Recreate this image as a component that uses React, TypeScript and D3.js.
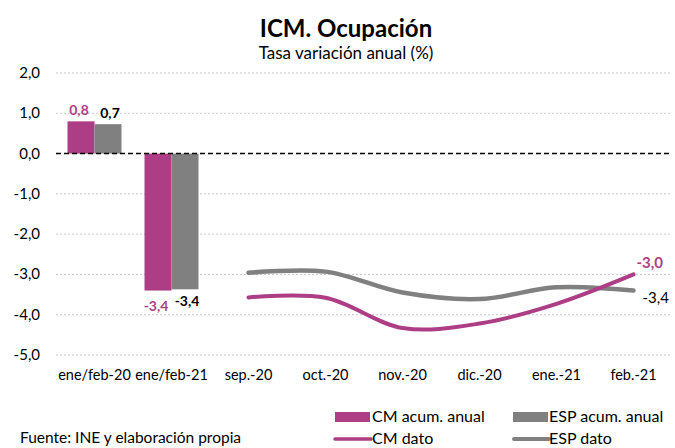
import React from 'react';
import * as d3 from 'd3';

const categories = ['ene/feb-20', 'ene/feb-21', 'sep.-20', 'oct.-20', 'nov.-20', 'dic.-20', 'ene.-21', 'feb.-21'];
const barCats = ['ene/feb-20', 'ene/feb-21'];
const cmAcum = [0.8, -3.4];
const espAcum = [0.73, -3.37];
const lineCats = ['sep.-20', 'oct.-20', 'nov.-20', 'dic.-20', 'ene.-21', 'feb.-21'];
const cmDato = [-3.57, -3.58, -4.33, -4.22, -3.73, -3.0];
const espDato = [-2.96, -2.93, -3.45, -3.61, -3.32, -3.4];
const yTicks = [2, 1, 0, -1, -2, -3, -4, -5];

const MAGENTA = '#ad3e85';
const GRAY = '#808080';
const FONT = 'Lato, "Open Sans", sans-serif';

const fmt = (v: number) => v.toFixed(1).replace('.', ',');

const App = () => {
  const width = 675;
  const height = 448;
  const margin = { top: 73, left: 56, right: 3, bottom: 93 };

  const x = d3
    .scaleBand<string>()
    .domain(categories)
    .range([margin.left, width - margin.right]);
  const y = d3
    .scaleLinear()
    .domain([-5, 2])
    .range([height - margin.bottom, margin.top]);

  const barW = 27;
  const lineGen = d3
    .line<number>()
    .x((_, i) => x(lineCats[i])! + x.bandwidth() / 2)
    .y((d) => y(d))
    .curve(d3.curveCatmullRom.alpha(0.5));

  const lastX = x(lineCats[lineCats.length - 1])! + x.bandwidth() / 2;

  return (
    <svg width={width} height={height} style={{ position: 'absolute', left: 0, top: 0, fontFamily: FONT }}>
      <rect width={width} height={height} fill="#fff" />
      <text x={346} y={37} textAnchor="middle" fontSize={24} fontWeight="bold">
        ICM. Ocupación
      </text>
      <text x={346} y={59} textAnchor="middle" fontSize={17}>
        Tasa variación anual (%)
      </text>

      {yTicks.map((t) => (
        <g key={t}>
          {t !== 0 && (
            <line
              x1={margin.left}
              x2={width - margin.right}
              y1={y(t)}
              y2={y(t)}
              stroke="#c8c8c8"
              strokeWidth={1}
              strokeDasharray="2,2"
            />
          )}
          <text x={40} y={y(t) + 5} textAnchor="end" fontSize={15}>
            {fmt(t)}
          </text>
        </g>
      ))}

      {barCats.map((c, i) => {
        const cx = x(c)! + x.bandwidth() / 2;
        const v1 = cmAcum[i];
        const v2 = espAcum[i];
        return (
          <g key={c}>
            <rect x={cx - barW} width={barW} y={Math.min(y(v1), y(0))} height={Math.abs(y(v1) - y(0))} fill={MAGENTA} />
            <rect x={cx} width={barW} y={Math.min(y(v2), y(0))} height={Math.abs(y(v2) - y(0))} fill={GRAY} />
            <text
              x={cx - barW / 2 - 2}
              y={v1 >= 0 ? y(v1) - 6 : y(v1) + 20}
              textAnchor="middle"
              fontSize={14}
              fontWeight="bold"
              fill={MAGENTA}
            >
              {fmt(v1)}
            </text>
            <text
              x={cx + barW / 2 + 2}
              y={v2 >= 0 ? y(v2) - 6 : y(v2) + 17}
              textAnchor="middle"
              fontSize={14}
              fontWeight="bold"
              fill="#000"
            >
              {fmt(v2)}
            </text>
          </g>
        );
      })}

      <line
        x1={margin.left}
        x2={width - margin.right}
        y1={y(0)}
        y2={y(0)}
        stroke="#000"
        strokeWidth={1.5}
        strokeDasharray="5,3"
      />

      <path d={lineGen(espDato)!} fill="none" stroke={GRAY} strokeWidth={4.5} strokeLinecap="round" />
      <path d={lineGen(cmDato)!} fill="none" stroke={MAGENTA} strokeWidth={4} strokeLinecap="round" />
      <text x={lastX + 3} y={y(cmDato[5]) - 6} fontSize={15} fontWeight="bold" fill={MAGENTA}>
        {fmt(cmDato[5])}
      </text>
      <text x={lastX + 9} y={y(espDato[5]) + 12} fontSize={15} fill="#000">
        {fmt(espDato[5])}
      </text>

      {categories.map((c) => (
        <text key={c} x={x(c)! + x.bandwidth() / 2} y={y(-5) + 25} textAnchor="middle" fontSize={14.5}>
          {c}
        </text>
      ))}

      <g fontSize={16}>
        <rect x={335} y={412} width={35} height={10} fill={MAGENTA} />
        <text x={372} y={422}>CM acum. anual</text>
        <rect x={513} y={412} width={35} height={10} fill={GRAY} />
        <text x={549} y={422}>ESP acum. anual</text>
        <line x1={335} x2={371} y1={439} y2={439} stroke={MAGENTA} strokeWidth={3.5} strokeLinecap="round" />
        <text x={372} y={444}>CM dato</text>
        <line x1={514} x2={549} y1={439} y2={439} stroke={GRAY} strokeWidth={4} strokeLinecap="round" />
        <text x={549} y={444}>ESP dato</text>
      </g>
      <text x={20} y={443} fontSize={15.5}>Fuente: INE y elaboración propia</text>
    </svg>
  );
};

export default App;
